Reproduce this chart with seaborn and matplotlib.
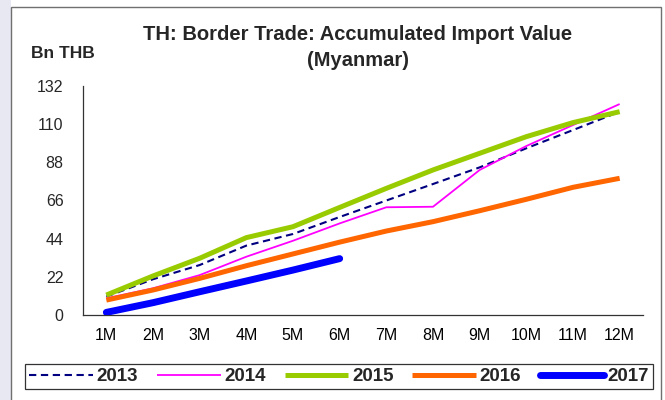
import matplotlib
matplotlib.use("Agg")
import matplotlib.pyplot as plt
import matplotlib.patches as mpatches
from matplotlib.lines import Line2D
from matplotlib.ticker import FixedLocator
import seaborn as sns
import pandas as pd

# Monthly accumulated import values (Bn THB)
months = ["1M", "2M", "3M", "4M", "5M", "6M", "7M", "8M", "9M", "10M", "11M", "12M"]
v2013 = [10.6, 20.6, 28.8, 40.0, 46.7, 56.5, 66.0, 75.5, 85.1, 96.1, 106.6, 117.2]
v2014 = [9.6, 15.4, 23.0, 33.6, 42.8, 52.8, 62.1, 62.4, 83.6, 97.4, 109.5, 121.6]
v2015 = [11.5, 22.5, 32.7, 44.6, 50.9, 62.0, 73.0, 83.6, 93.2, 102.8, 110.9, 117.2]
v2016 = [8.6, 14.4, 21.1, 28.4, 35.2, 42.0, 48.4, 53.8, 60.1, 66.7, 73.6, 78.8]
v2017 = [1.5, 7.1, 13.4, 19.6, 25.9, 32.5]
years = ["2013", "2014", "2015", "2016", "2017"]
yticks = [0, 22, 44, 66, 88, 110, 132]

series = {"2013": v2013, "2014": v2014, "2015": v2015, "2016": v2016, "2017": v2017}
styles = {
    "2013": dict(color="#000080", lw=1.5, ls=(0, (3.5, 2.2))),
    "2014": dict(color="#FF00FF", lw=1.3, ls="-"),
    "2015": dict(color="#99CC00", lw=3.6, ls="-"),
    "2016": dict(color="#FF6600", lw=3.6, ls="-"),
    "2017": dict(color="#0000FF", lw=5.0, ls="-"),
}

rows = []
for y in years:
    for i, v in enumerate(series[y]):
        rows.append({"year": y, "pos": i, "value": v})
df = pd.DataFrame(rows)

sns.set_style("white")
plt.rcParams["font.family"] = ["Liberation Sans", "DejaVu Sans"]

fig = plt.figure(figsize=(6.65, 4.0), dpi=100)
fig.patch.set_facecolor("white")

# light strip on the left and the gray outer frame
fig.add_artist(mpatches.Rectangle((0, 0), 11 / 665, 1, transform=fig.transFigure,
                                  facecolor="#E8E8F2", edgecolor="none", zorder=0))
fig.add_artist(mpatches.Rectangle((11 / 665, -0.05), (661 - 11) / 665, 1.05 - 6.5 / 400,
                                  transform=fig.transFigure, facecolor="white",
                                  edgecolor="#707070", lw=1.0, zorder=0))

ax = fig.add_axes([83 / 665, 1 - 315 / 400, (643 - 83) / 665, (315 - 86) / 400])
ax.set_facecolor("none")

for y in years:
    st = styles[y]
    d = df[df["year"] == y]
    sns.lineplot(data=d, x="pos", y="value", ax=ax, color=st["color"],
                 linewidth=st["lw"], linestyle=st["ls"],
                 solid_capstyle="round" if y == "2017" else "butt",
                 legend=False, zorder=3)

ax.set_xlim(-0.5, 11.5)
ax.set_ylim(0, 132)
ax.set_yticks(yticks)
ax.set_yticklabels([str(t) for t in yticks], fontsize=11.5)
ax.set_xticks(range(len(months)))
ax.set_xticklabels(months, fontsize=11.5)
ax.xaxis.set_minor_locator(FixedLocator([i - 0.5 for i in range(len(months) + 1)]))
ax.tick_params(axis="x", which="major", length=0, pad=9, colors="black")
ax.tick_params(axis="x", which="minor", length=6, width=0.9, direction="out", color="#333333")
ax.tick_params(axis="y", length=6, width=0.9, direction="out", color="#333333", pad=8)
ax.set_xlabel("")
ax.set_ylabel("")
for s in ["top", "right"]:
    ax.spines[s].set_visible(False)
for s in ["left", "bottom"]:
    ax.spines[s].set_color("#333333")
    ax.spines[s].set_linewidth(0.9)

fig.text(358 / 665, 1 - 35 / 400, "TH: Border Trade: Accumulated Import Value",
         ha="center", va="center", fontsize=14.5, fontweight="bold")
fig.text(358 / 665, 1 - 60 / 400, "(Myanmar)",
         ha="center", va="center", fontsize=14.5, fontweight="bold")
fig.text(31 / 665, 1 - 53 / 400, "Bn THB", ha="left", va="center",
         fontsize=12.5, fontweight="bold")

handles = [Line2D([0], [0], color=styles[y]["color"], lw=styles[y]["lw"],
                  ls=styles[y]["ls"],
                  solid_capstyle="round" if y == "2017" else "butt") for y in years]
leg = fig.legend(handles, years, loc="center", ncol=5,
                 bbox_to_anchor=((27 + 651) / 2 / 665, 1 - 376.5 / 400),
                 frameon=True, fancybox=False, edgecolor="black",
                 handlelength=3.4, handletextpad=0.2, columnspacing=1.0,
                 borderpad=0.2, prop={"size": 13.5, "weight": "bold"})
leg.get_frame().set_linewidth(0.9)

fig.savefig("out.png", dpi=100, facecolor=fig.get_facecolor())
